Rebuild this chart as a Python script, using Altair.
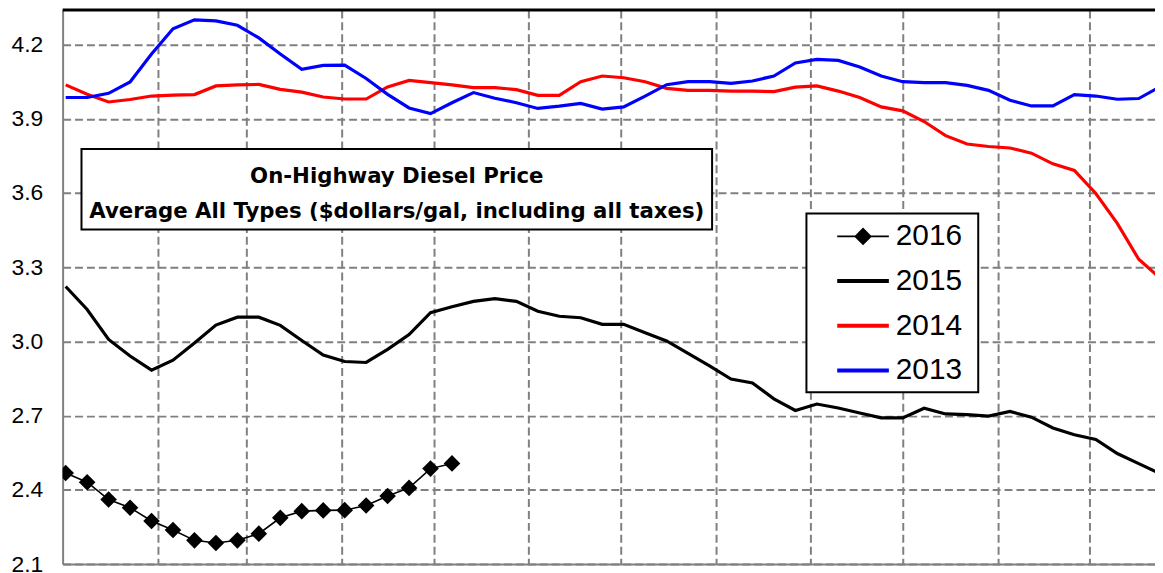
import altair as alt
import pandas as pd

YEARS = ["2016", "2015", "2014", "2013"]
COLORS = ["#000000", "#000000", "#FF0000", "#0000FF"]

P2016 = [2.468, 2.431, 2.361, 2.328, 2.274, 2.238, 2.196, 2.185, 2.196, 2.223,
         2.287, 2.314, 2.317, 2.318, 2.337, 2.375, 2.408, 2.486, 2.507]

P2015 = [3.222, 3.129, 3.008, 2.941, 2.884, 2.924, 2.994, 3.066, 3.098, 3.098,
         3.065, 3.004, 2.945, 2.919, 2.915, 2.968, 3.028, 3.116, 3.140, 3.162,
         3.173, 3.162, 3.122, 3.102, 3.096, 3.069, 3.069, 3.035, 3.002, 2.952,
         2.901, 2.848, 2.832, 2.768, 2.721, 2.747, 2.731, 2.711, 2.691, 2.691,
         2.730, 2.707, 2.704, 2.698, 2.717, 2.694, 2.650, 2.623, 2.604, 2.547,
         2.506, 2.466]

P2014 = [4.037, 3.999, 3.968, 3.978, 3.992, 3.996, 3.998, 4.033, 4.037, 4.039,
         4.019, 4.008, 3.988, 3.980, 3.980, 4.029, 4.055, 4.046, 4.037, 4.026,
         4.026, 4.018, 3.995, 3.995, 4.050, 4.073, 4.066, 4.050, 4.023, 4.015,
         4.015, 4.012, 4.012, 4.010, 4.028, 4.033, 4.012, 3.986, 3.948, 3.932,
         3.889, 3.832, 3.798, 3.788, 3.782, 3.761, 3.718, 3.691, 3.598, 3.477,
         3.332, 3.256]

P2013 = [3.986, 3.986, 4.003, 4.049, 4.162, 4.264, 4.300, 4.296, 4.278, 4.227,
         4.162, 4.100, 4.116, 4.117, 4.063, 3.999, 3.944, 3.921, 3.965, 4.006,
         3.983, 3.965, 3.942, 3.951, 3.962, 3.939, 3.948, 3.992, 4.038, 4.050,
         4.050, 4.043, 4.053, 4.073, 4.126, 4.140, 4.136, 4.109, 4.073, 4.050,
         4.046, 4.046, 4.035, 4.015, 3.975, 3.952, 3.952, 3.998, 3.992, 3.979,
         3.982, 4.030]

Y_TICKS = [2.1, 2.4, 2.7, 3.0, 3.3, 3.6, 3.9, 4.2]
MONTH_STARTS = [31, 60, 91, 121, 152, 182, 213, 244, 274, 305, 335]
TITLE_LINES = ["On-Highway Diesel Price",
               "Average All Types ($dollars/gal, including all taxes)"]

W, H = 1100, 558
X_MAX = 356.3
Y_DOMAIN = [2.1, 4.34]
GRID = "#808080"

rows = []
for year, vals in [("2014", P2014), ("2013", P2013), ("2015", P2015), ("2016", P2016)]:
    for i, v in enumerate(vals):
        rows.append({"year": year, "day": 1 + 7 * i, "price": v})
df = pd.DataFrame(rows)

xscale = alt.Scale(domain=[0, X_MAX], nice=False, zero=False)
yscale = alt.Scale(domain=Y_DOMAIN, nice=False, zero=False)

xaxis = alt.Axis(values=MONTH_STARTS, grid=True, gridColor=GRID, gridDash=[8, 4],
                 gridWidth=2, labels=False, ticks=False, domainColor=GRID,
                 domainWidth=2, title=None)
yaxis = alt.Axis(values=Y_TICKS, grid=True, gridColor=GRID, gridDash=[8, 4],
                 gridWidth=2, ticks=False, domainColor=GRID, domainWidth=2,
                 title=None, labelFont="Liberation Sans", labelFontSize=23,
                 labelColor="black", labelPadding=20, labelOverlap=False,
                 format=".1f")

shape_expr = ("datum.value === '2016' ? 'M-2.6,0H2.6M-0.75,0L0,-0.75L0.75,0L0,0.75Z' "
              ": 'M-2.6,0H2.6'")

legend = alt.Legend(
    title=None, orient="none", legendX=791, legendY=213, padding=0,
    labelFont="Liberation Sans", labelFontSize=30, labelColor="black",
    symbolSize=400, symbolOffset=0, labelOffset=18, rowPadding=15,
    symbolType=alt.ExprRef(expr=shape_expr),
    symbolFillColor=alt.ExprRef(expr="datum.value === '2016' ? 'black' : 'transparent'"),
    symbolStrokeWidth=alt.ExprRef(expr="datum.value === '2016' ? 2 : 4"),
)

base = alt.Chart(df)
lines = base.mark_line(clip=True, strokeCap="butt").encode(
    x=alt.X("day:Q", scale=xscale, axis=xaxis),
    y=alt.Y("price:Q", scale=yscale, axis=yaxis),
    color=alt.Color("year:N", scale=alt.Scale(domain=YEARS, range=COLORS), legend=legend),
    strokeWidth=alt.condition(alt.datum.year == "2016", alt.value(1.6), alt.value(3.2)),
    detail="year:N",
)
points = base.transform_filter(alt.datum.year == "2016").mark_point(
    shape="diamond", filled=True, size=280, color="black", opacity=1, clip=True
).encode(
    x=alt.X("day:Q", scale=xscale),
    y=alt.Y("price:Q", scale=yscale),
)

one = pd.DataFrame({"a": [0]})
top_rule = alt.Chart(one).mark_rule(color="black", strokeWidth=3).encode(
    x=alt.value(0), x2=alt.value(W), y=alt.value(0)
)
legend_box = alt.Chart(one).mark_rect(fill="white", stroke="black", strokeWidth=2).encode(
    x=alt.value(749), x2=alt.value(922), y=alt.value(205), y2=alt.value(385)
)

title_df = pd.DataFrame({"text": TITLE_LINES, "line": [0, 1]})
box = alt.Chart(one).mark_rect(fill="white", stroke="black", strokeWidth=2).encode(
    x=alt.value(19), x2=alt.value(654), y=alt.value(140), y2=alt.value(221)
)
title1 = alt.Chart(title_df).transform_filter(alt.datum.line == 0).mark_text(
    font="DejaVu Sans", fontWeight="bold", fontSize=21.4, color="black", align="center",
    baseline="alphabetic"
).encode(text="text:N", x=alt.value(336.5), y=alt.value(174))
title2 = alt.Chart(title_df).transform_filter(alt.datum.line == 1).mark_text(
    font="DejaVu Sans", fontWeight="bold", fontSize=21.4, color="black", align="center",
    baseline="alphabetic"
).encode(text="text:N", x=alt.value(336.5), y=alt.value(209))

chart = alt.layer(lines, points, top_rule, legend_box, box, title1, title2).properties(
    width=W, height=H,
    autosize=alt.AutoSizeParams(type="none"),
    padding={"left": 55, "top": 0, "right": 0, "bottom": 7},
).configure_view(stroke=None).configure(background="white")

chart.save("out.html", embed_options={"renderer": "svg", "actions": False})
